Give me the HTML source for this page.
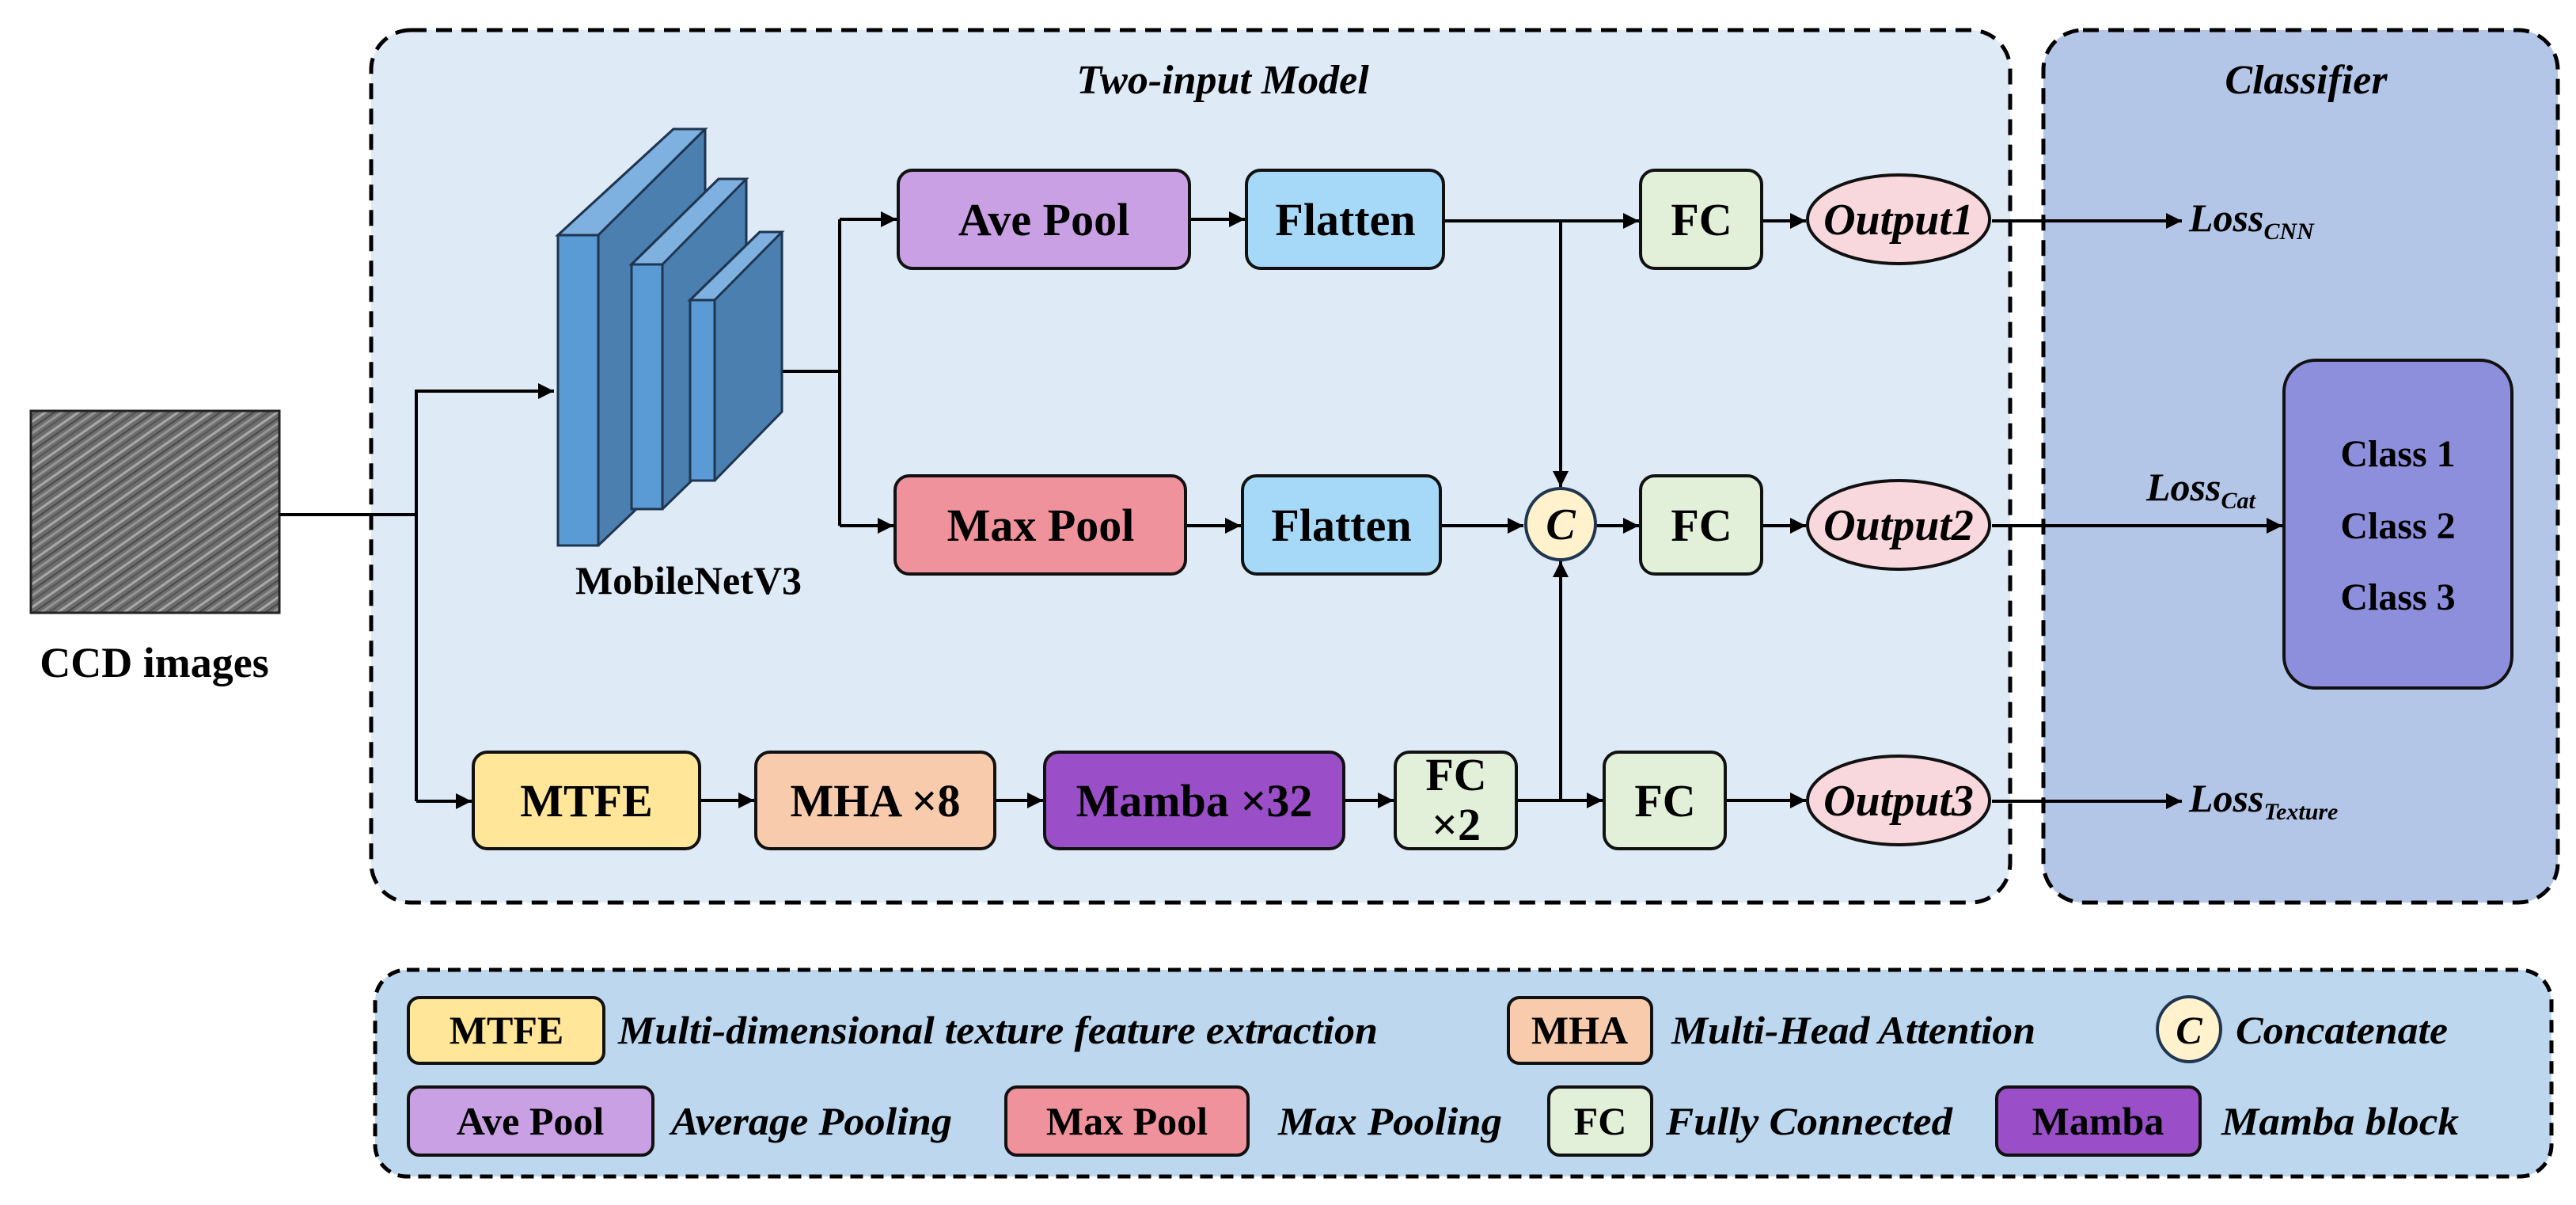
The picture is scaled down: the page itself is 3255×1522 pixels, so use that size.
<!DOCTYPE html>
<html><head><meta charset="utf-8"><style>html,body{margin:0;padding:0;background:#fff}svg{display:block}text,tspan{font-family:"Liberation Serif","DejaVu Serif","Times New Roman",Times,serif !important}</style></head><body>
<svg width="3255" height="1522" viewBox="0 0 3255 1522" xmlns="http://www.w3.org/2000/svg" style="font-family:'Liberation Serif','DejaVu Serif',serif">
<defs>
<marker id="a" viewBox="0 0 10 10" refX="10" refY="5" markerWidth="24" markerHeight="20" orient="auto" markerUnits="userSpaceOnUse"><path d="M0,0 L10,5 L0,10 z" fill="#000"/></marker>
<pattern id="tex" width="24" height="24" patternUnits="userSpaceOnUse" patternTransform="rotate(-35)">
<rect width="24" height="24" fill="#6e6e6e"/>
<rect y="2" width="24" height="3" fill="#a8a8a8"/>
<rect y="9" width="24" height="2" fill="#4a4a4a"/>
<rect y="14" width="24" height="3" fill="#959595"/>
<rect y="20" width="24" height="2" fill="#555"/>
</pattern>
</defs>
<rect x="469" y="38" width="2071" height="1102" rx="50" fill="#deeaf6" stroke="#000" stroke-width="5" stroke-dasharray="20,12"/>
<rect x="2582" y="38" width="650" height="1102" rx="50" fill="#b4c6e8" stroke="#000" stroke-width="5" stroke-dasharray="20,12"/>
<rect x="474" y="1225" width="2750" height="261" rx="40" fill="#bdd7ee" stroke="#000" stroke-width="5" stroke-dasharray="16,10"/>
<text x="1545" y="118" font-size="52" font-style="italic" font-weight="bold" text-anchor="middle">Two-input Model</text>
<text x="2914" y="118" font-size="52" font-style="italic" font-weight="bold" text-anchor="middle">Classifier</text>
<rect x="39" y="519" width="314" height="255" fill="url(#tex)" stroke="#222" stroke-width="3"/>
<text x="195" y="855" font-size="54" font-weight="bold" text-anchor="middle">CCD images</text>
<g stroke="#000" stroke-width="4" fill="none">
<path d="M353,650 H526"/>
<path d="M526,1012 V494 H700" marker-end="url(#a)"/>
<path d="M526,1012 H596" marker-end="url(#a)"/>
<path d="M988,469 H1061"/>
<path d="M1061,277 V664"/>
<path d="M1061,277 H1133" marker-end="url(#a)"/>
<path d="M1061,664 H1129" marker-end="url(#a)"/>
<path d="M1503,277 H1573" marker-end="url(#a)"/>
<path d="M1498,664 H1568" marker-end="url(#a)"/>
<path d="M1824,279 H2071" marker-end="url(#a)"/>
<path d="M1972,279 V615" marker-end="url(#a)"/>
<path d="M1820,664 H1925" marker-end="url(#a)"/>
<path d="M2017,664 H2071" marker-end="url(#a)"/>
<path d="M2226,279 H2282" marker-end="url(#a)"/>
<path d="M2226,664 H2282" marker-end="url(#a)"/>
<path d="M1916,1011 H2025" marker-end="url(#a)"/>
<path d="M1972,1011 V709" marker-end="url(#a)"/>
<path d="M2180,1011 H2282" marker-end="url(#a)"/>
<path d="M884,1011 H953" marker-end="url(#a)"/>
<path d="M1257,1011 H1318" marker-end="url(#a)"/>
<path d="M1698,1011 H1761" marker-end="url(#a)"/>
<path d="M2517,279 H2757" marker-end="url(#a)"/>
<path d="M2517,664 H2884" marker-end="url(#a)"/>
<path d="M2517,1012 H2757" marker-end="url(#a)"/>
</g>
<g stroke="#1f3550" stroke-width="3">
<polygon points="705,297 851,163 891,163 891,560 756,689 705,689" fill="#4a7fb0"/>
<polygon points="705,297 851,163 891,163 756,297" fill="#7eb1e0"/>
<rect x="705" y="297" width="51" height="392" fill="#5b9bd5"/>
<polygon points="798,334 908,226 943,226 943,540 837,643 798,643" fill="#4a7fb0"/>
<polygon points="798,334 908,226 943,226 837,334" fill="#7eb1e0"/>
<rect x="798" y="334" width="39" height="309" fill="#5b9bd5"/>
<polygon points="872,379 960,293 988,293 988,520 903,607 872,607" fill="#4a7fb0"/>
<polygon points="872,379 960,293 988,293 903,379" fill="#7eb1e0"/>
<rect x="872" y="379" width="31" height="228" fill="#5b9bd5"/>
</g>
<text x="870" y="750" font-size="50" font-weight="bold" text-anchor="middle">MobileNetV3</text>
<g stroke="#111" stroke-width="4">
<rect x="1135" y="215" width="368" height="124" rx="18" fill="#c9a0e4"/>
<rect x="1575" y="215" width="249" height="124" rx="18" fill="#a6d8f7"/>
<rect x="2073" y="215" width="153" height="124" rx="18" fill="#e2efd9"/>
<ellipse cx="2399" cy="277" rx="115" ry="56" fill="#f8d7dd"/>
<rect x="1131" y="601" width="367" height="124" rx="18" fill="#f0929c"/>
<rect x="1570" y="601" width="250" height="124" rx="18" fill="#a6d8f7"/>
<ellipse cx="1972" cy="662" rx="44" ry="45" fill="#fff2cc" stroke="#1f3550"/>
<rect x="2073" y="601" width="153" height="124" rx="18" fill="#e2efd9"/>
<ellipse cx="2399" cy="663" rx="115" ry="56" fill="#f8d7dd"/>
<rect x="598" y="950" width="286" height="122" rx="18" fill="#ffe699"/>
<rect x="955" y="950" width="302" height="122" rx="18" fill="#f8cbad"/>
<rect x="1320" y="950" width="378" height="122" rx="18" fill="#9a4fc8"/>
<rect x="1763" y="950" width="153" height="122" rx="18" fill="#e2efd9"/>
<rect x="2027" y="950" width="153" height="122" rx="18" fill="#e2efd9"/>
<ellipse cx="2399" cy="1011" rx="115" ry="56" fill="#f8d7dd"/>
<rect x="2886" y="455" width="288" height="414" rx="40" fill="#8e8fdc"/>
</g>
<g font-size="58" font-weight="bold" text-anchor="middle">
<text x="1319" y="297">Ave Pool</text>
<text x="1700" y="297">Flatten</text>
<text x="2150" y="297">FC</text>
<text x="1315" y="683">Max Pool</text>
<text x="1695" y="683">Flatten</text>
<text x="2150" y="683">FC</text>
<text x="741" y="1031">MTFE</text>
<text x="1106" y="1031">MHA ×8</text>
<text x="1509" y="1031">Mamba ×32</text>
<text x="1840" y="998">FC</text>
<text x="1840" y="1061">×2</text>
<text x="2104" y="1031">FC</text>
<text x="3030" y="589" font-size="48">Class 1</text>
<text x="3030" y="680" font-size="48">Class 2</text>
<text x="3030" y="770" font-size="48">Class 3</text>
</g>
<g font-size="56" font-weight="bold" font-style="italic" text-anchor="middle">
<text x="1972" y="681">C</text>
<text x="2399" y="296">Output1</text>
<text x="2399" y="682">Output2</text>
<text x="2399" y="1030">Output3</text>
</g>
<g font-weight="bold" font-style="italic">
<text x="2766" y="292" font-size="50">Loss<tspan font-size="30" dy="10">CNN</tspan></text>
<text x="2712" y="632" font-size="50">Loss<tspan font-size="30" dy="10">Cat</tspan></text>
<text x="2766" y="1025" font-size="50">Loss<tspan font-size="30" dy="10">Texture</tspan></text>
</g>
<g stroke="#111" stroke-width="4">
<rect x="516" y="1260" width="247" height="83" rx="14" fill="#ffe699"/>
<rect x="1906" y="1260" width="181" height="83" rx="14" fill="#f8cbad"/>
<ellipse cx="2766" cy="1300" rx="40" ry="41" fill="#fff2cc" stroke="#1f3550"/>
<rect x="516" y="1373" width="309" height="86" rx="14" fill="#c9a0e4"/>
<rect x="1271" y="1373" width="306" height="86" rx="14" fill="#f0929c"/>
<rect x="1957" y="1373" width="130" height="86" rx="14" fill="#e2efd9"/>
<rect x="2523" y="1373" width="257" height="86" rx="14" fill="#9a4fc8"/>
</g>
<g font-size="50" font-weight="bold" text-anchor="middle">
<text x="640" y="1318">MTFE</text>
<text x="1996" y="1318">MHA</text>
<text x="2766" y="1318" font-style="italic">C</text>
<text x="670" y="1433">Ave Pool</text>
<text x="1424" y="1433">Max Pool</text>
<text x="2022" y="1433">FC</text>
<text x="2651" y="1433">Mamba</text>
</g>
<g font-size="50" font-weight="bold" font-style="italic">
<text x="781" y="1318" textLength="960" lengthAdjust="spacingAndGlyphs">Multi-dimensional texture feature extraction</text>
<text x="2112" y="1318" textLength="460" lengthAdjust="spacingAndGlyphs">Multi-Head Attention</text>
<text x="2825" y="1318" textLength="268" lengthAdjust="spacingAndGlyphs">Concatenate</text>
<text x="848" y="1433" textLength="355" lengthAdjust="spacingAndGlyphs">Average Pooling</text>
<text x="1615" y="1433" textLength="283" lengthAdjust="spacingAndGlyphs">Max Pooling</text>
<text x="2105" y="1433" textLength="362" lengthAdjust="spacingAndGlyphs">Fully Connected</text>
<text x="2807" y="1433" textLength="300" lengthAdjust="spacingAndGlyphs">Mamba block</text>
</g>
</svg>
</body></html>
